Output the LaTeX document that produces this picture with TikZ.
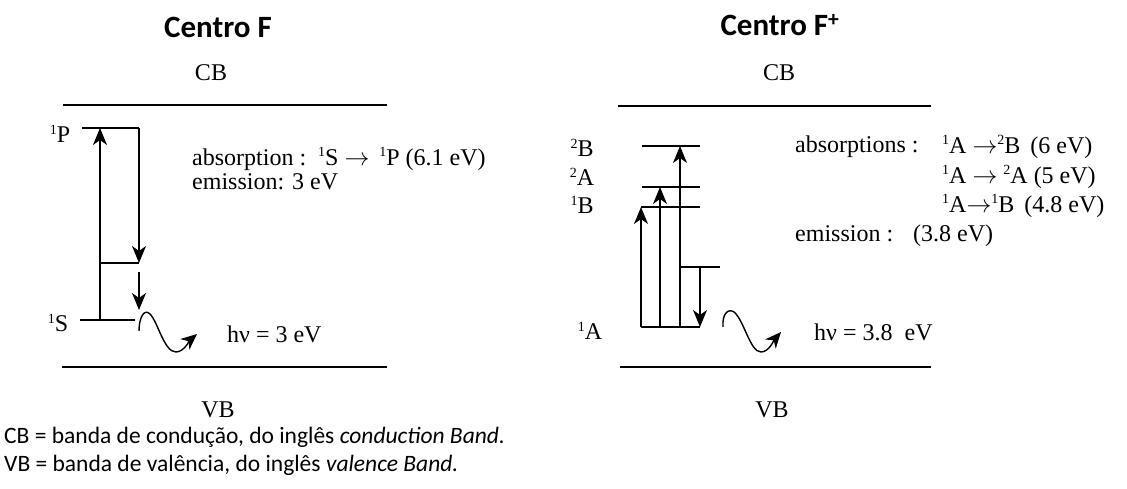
\documentclass[tikz,border=0pt]{standalone}
\usepackage{fontspec}
\setmainfont{Liberation Serif}
\newfontfamily\cali{Carlito}
\usetikzlibrary{arrows.meta}
\newcommand{\spp}[1]{\raisebox{0.75ex}{\fontsize{14}{14}\selectfont #1}}
\begin{document}
\begin{tikzpicture}[x=1pt,y=-1pt,
  band/.style={line width=2.5pt},
  level/.style={line width=1.5pt},
  trans/.style={line width=1.4pt,-{Stealth[length=17pt,width=14pt,inset=5pt]}},
  wave/.style={line width=1.4pt,-{Stealth[length=16pt,width=14pt,inset=5pt]}},
  lbl/.style={font=\fontsize{24}{28}\selectfont,inner sep=0pt},
  title/.style={font=\cali\bfseries\fontsize{31}{35}\selectfont,inner sep=0pt},
  note/.style={font=\cali\fontsize{23.5}{27}\selectfont,inner sep=0pt,anchor=west}]
\useasboundingbox (0,0) rectangle (1127,489);
% ---------- left: Centro F ----------
\node[title] (tF) at (218,27) {Centro F};
\node[lbl] (cbL) at (211,73) {CB};
\node[lbl] (vbL) at (218,410) {VB};
\coordinate (cbL1) at (63,105); \coordinate (cbL2) at (387,105);
\coordinate (vbL1) at (62,367); \coordinate (vbL2) at (387,367);
\draw[band] (cbL1) -- (cbL2);
\draw[band] (vbL1) -- (vbL2);
\coordinate (P1) at (82,128); \coordinate (P2) at (139,128);
\coordinate (S1) at (80,320); \coordinate (S2) at (135,320);
\coordinate (M1) at (100,263); \coordinate (M2) at (139,263);
\coordinate (Sa) at (100,320); \coordinate (Pa) at (100,128);
\coordinate (Ma) at (139,272); \coordinate (Mb) at (139,310);
\draw[level] (P1) -- (P2);
\draw[level] (S1) -- (S2);
\draw[level] (M1) -- (M2);
\draw[trans] (Sa) -- (Pa);
\draw[trans] (P2) -- (M2);
\draw[trans] (Ma) -- (Mb);
\coordinate (wL0) at (139,331); \coordinate (wL1) at (197,334);
\draw[wave] (wL0) .. controls (139,318) and (144,308) .. (150,314)
  .. controls (158,322) and (164,352) .. (176,352)
  .. controls (184,352) and (190,340) .. (wL1);
\node[lbl] (lP) at (60,134) {\spp{1}P};
\node[lbl] (lS) at (58,323) {\spp{1}S};
\node[lbl,anchor=west] (absL) at (192,159) {absorption : \,\spp{1}S $\rightarrow$ \,\spp{1}P (6.1 eV)};
\node[lbl,anchor=west] (emL) at (192,182) {emission: 3 eV};
\node[lbl,anchor=west] (hvL) at (227,334) {hν = 3 eV};
% ---------- right: Centro F+ ----------
\node[title] (tFp) at (780,25) {Centro F\textsuperscript{+}};
\node[lbl] (cbR) at (779,73) {CB};
\node[lbl] (vbR) at (772,410) {VB};
\coordinate (cbR1) at (618,106); \coordinate (cbR2) at (931,106);
\coordinate (vbR1) at (620,367); \coordinate (vbR2) at (931,367);
\draw[band] (cbR1) -- (cbR2);
\draw[band] (vbR1) -- (vbR2);
\coordinate (B2a) at (642,146); \coordinate (B2b) at (700,146);
\coordinate (A2a) at (642,187); \coordinate (A2b) at (700,187);
\coordinate (B1a) at (641,207); \coordinate (B1b) at (700,207);
\coordinate (A1a) at (641,327); \coordinate (A1b) at (700,327);
\coordinate (Na) at (680,267); \coordinate (Nb) at (720,267);
\draw[level] (B2a) -- (B2b);
\draw[level] (A2a) -- (A2b);
\draw[level] (B1a) -- (B1b);
\draw[level] (A1a) -- (A1b);
\draw[level] (Na) -- (Nb);
\coordinate (u1) at (660,327); \coordinate (u1t) at (660,187);
\coordinate (u2) at (680,327); \coordinate (u2t) at (680,146);
\coordinate (d0) at (700,267);
\draw[trans] (A1a) -- (B1a);
\draw[trans] (u1) -- (u1t);
\draw[trans] (u2) -- (u2t);
\draw[trans] (d0) -- (A1b);
\coordinate (wR0) at (723,327); \coordinate (wR1) at (781,332);
\draw[wave] (wR0) .. controls (722,314) and (728,308) .. (734,312)
  .. controls (744,320) and (750,352) .. (761,352)
  .. controls (769,352) and (774,340) .. (wR1);
\node[lbl] (l2B) at (582,148) {\spp{2}B};
\node[lbl] (l2A) at (582,177) {\spp{2}A};
\node[lbl] (l1B) at (582,205) {\spp{1}B};
\node[lbl] (l1A) at (590,331) {\spp{1}A};
\node[lbl,anchor=west] (absR) at (795,147) {absorptions :};
\node[lbl,anchor=west] (r1) at (942,147) {\spp{1}A $\rightarrow$\spp{2}B \,(6 eV)};
\node[lbl,anchor=west] (r2) at (942,177) {\spp{1}A $\rightarrow$ \spp{2}A (5 eV)};
\node[lbl,anchor=west] (r3) at (942,206) {\spp{1}A$\rightarrow$\spp{1}B \,(4.8 eV)};
\node[lbl,anchor=west] (emR) at (795,236) {emission : \ \ (3.8 eV)};
\node[lbl,anchor=west] (hvR) at (814,332) {hν = 3.8 \ eV};
% ---------- notes ----------
\node[note] (n1) at (4,437) {CB = banda de condução, do inglês \textit{conduction Band.}};
\node[note] (n2) at (4,465) {VB = banda de valência, do inglês \textit{valence Band.}};
\end{tikzpicture}
\end{document}
